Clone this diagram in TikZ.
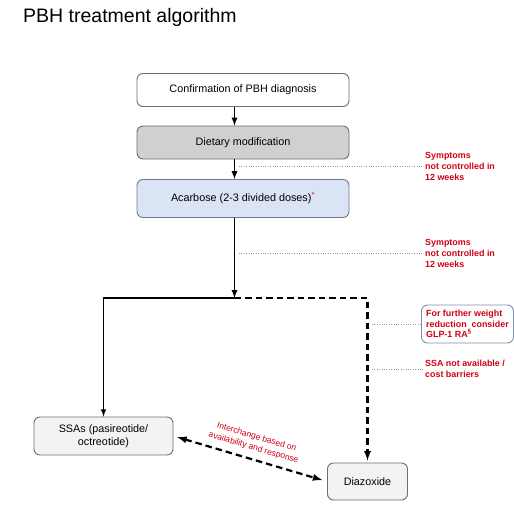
\documentclass[tikz,border=0pt]{standalone}
\usepackage{fontspec}
\setmainfont{Liberation Sans}
\usepackage{xcolor}
\usepackage{tikz}
\usetikzlibrary{arrows,shapes,backgrounds}

\definecolor{boxline}{RGB}{110,110,110}
\definecolor{dietgray}{RGB}{208,208,208}
\definecolor{acarblue}{RGB}{218,228,244}
\definecolor{acarline}{RGB}{112,122,142}
\definecolor{endgray}{RGB}{243,243,245}
\definecolor{glpline}{RGB}{125,145,175}
\definecolor{notered}{RGB}{208,0,22}

\begin{document}
\begin{tikzpicture}[x=1pt,y=-1pt,>=latex]
		\tikzstyle{box}=[draw=boxline, line width=0.9pt, fill=white, rounded corners=6pt, minimum width=212pt, minimum height=33pt, inner sep=0pt, font=\fontsize{10.8}{13.5}\selectfont]
		\tikzstyle{endbox}=[box, fill=endgray, align=center]
		\tikzstyle{note}=[anchor=west, align=left, inner sep=2pt, text=notered, font=\fontsize{8.9}{10.6}\selectfont\bfseries]
		\tikzstyle{arrow}=[line width=1.7pt]
		\tikzstyle{dasharrow}=[line width=2.2pt, dash pattern=on 6.5pt off 4pt]
		\tikzstyle{hint}=[gray!80, line width=0.6pt, dash pattern=on 1pt off 1.4pt]

		\useasboundingbox [fill=white] (0,0) rectangle (514,514);

		\node (title) at (23,17) [anchor=west, inner sep=0pt, font=\fontsize{19.5}{22}\selectfont] {PBH treatment algorithm};

		\node [box] (confirm) at (243,90) {Confirmation of PBH diagnosis};
		\node [box, fill=dietgray] (diet) at (243,142.5) {Dietary modification};
		\node [box, fill=acarblue, draw=acarline, minimum height=38pt] (acarbose) at (243,198.5) {Acarbose (2-3 divided doses)\textsuperscript{\textcolor{notered}{*}}};

		\node [endbox, minimum width=139pt, minimum height=38pt] (ssa) at (103.5,436) {SSAs (pasireotide/\\octreotide)};
		\node [endbox, minimum width=80pt, minimum height=37pt] (diazoxide) at (367.5,481.5) {Diazoxide};

		\coordinate (spine) at (234.5,298);
		\coordinate (left-turn) at (spine -| ssa.north);
		\coordinate (right-turn) at (spine -| diazoxide.north);

		\draw [arrow, ->] (confirm.south -| spine) -- (diet.north -| spine);
		\draw [arrow, ->] (diet.south -| spine) -- (acarbose.north -| spine);
		\draw [arrow, ->] (acarbose.south -| spine) -- (spine);
		\draw [arrow, line width=1.5pt, ->] (spine) -- (left-turn) -- (ssa.north);
		\draw [dasharrow, ->, shorten >=2pt] (spine) -- (right-turn) -- (diazoxide.north);

		\draw [dasharrow, <->, shorten <=4pt, shorten >=5pt] (ssa.east) -- node [sloped, above=3pt, align=center, text=notered, font=\fontsize{8.5}{11}\selectfont] {Interchange based on\\availability and response} (diazoxide.west);

		% side notes
		\node [note] (note1) at (423,166.5) {Symptoms\\not controlled in\\12 weeks};
		\node [note] (note2) at (423,253.5) {Symptoms\\not controlled in\\12 weeks};
		\node [note, draw=glpline, fill=white, rounded corners=6pt, line width=0.9pt, minimum width=92pt, minimum height=38pt, inner sep=3pt] (note3) at (421,324) {For further weight\\reduction\ \ consider\\GLP-1 RA\textsuperscript{\S}};
		\node [note] (note4) at (423,369) {SSA not available /\\cost barriers};

		\coordinate (tap1) at (239,166.5);
		\coordinate (tap2) at (239,253.5);
		\coordinate (tap3) at (372,324);
		\coordinate (tap4) at (372,369);
		\draw [hint] (tap1) -- (note1.west);
		\draw [hint] (tap2) -- (note2.west);
		\draw [hint] (tap3) -- (note3.west);
		\draw [hint] (tap4) -- (note4.west);
\end{tikzpicture}
\end{document}
